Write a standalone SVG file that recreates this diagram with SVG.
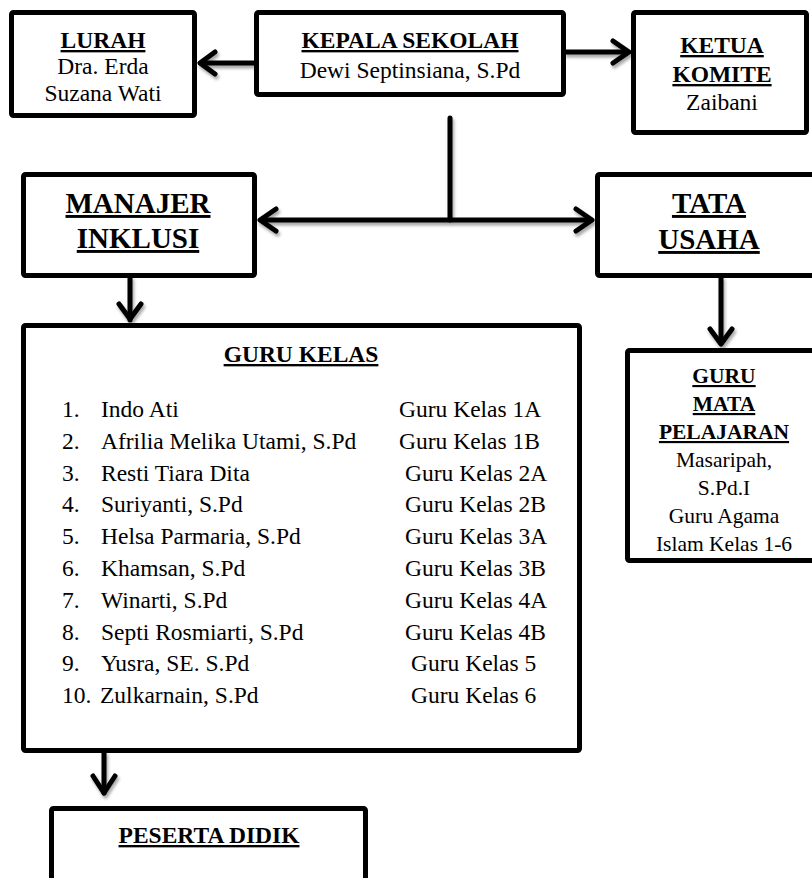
<svg xmlns="http://www.w3.org/2000/svg" width="812" height="878" viewBox="0 0 812 878">
<style>
  .box { fill: #fff; stroke: #000; stroke-width: 5; }
  .t { font-family: "Liberation Serif", "Times New Roman", serif; fill: #000; text-anchor: middle; }
  .s24 { font-size: 23.5px; }
  .s29 { font-size: 29px; }
  .s21 { font-size: 21.5px; }
  .b { font-weight: bold; text-decoration: underline; }
  .l { text-anchor: start; }
  .line { fill: none; stroke: #000; stroke-width: 5; stroke-linecap: round; stroke-linejoin: round; }
</style>
<defs>
  <filter id="sh" x="-20%" y="-20%" width="140%" height="140%">
    <feDropShadow dx="1.5" dy="3" stdDeviation="1.5" flood-color="#000" flood-opacity="0.35"/>
  </filter>
</defs>
<rect width="812" height="878" fill="#fff"/>

<g id="connectors" filter="url(#sh)">
  <!-- KEPALA -> LURAH -->
  <path class="line" d="M254 63 H201"/>
  <path class="line" d="M215 52 L200 63 L215 74"/>
  <!-- KEPALA -> KETUA -->
  <path class="line" d="M566 52 H628"/>
  <path class="line" d="M613 41 L629 52 L613 63"/>
  <!-- vertical trunk and horizontal bar -->
  <path class="line" d="M450 118 V220"/>
  <path class="line" d="M261 220 H591"/>
  <path class="line" d="M276 209 L260 220 L276 231"/>
  <path class="line" d="M576 209 L592 220 L576 231"/>
  <!-- MANAJER -> GURU KELAS -->
  <path class="line" d="M130 278 V320"/>
  <path class="line" d="M119 304 L130 319 L141 304"/>
  <!-- TATA USAHA -> GURU MATA PELAJARAN -->
  <path class="line" d="M721 278 V343"/>
  <path class="line" d="M710 329 L721 344 L732 329"/>
  <!-- GURU KELAS -> PESERTA DIDIK -->
  <path class="line" d="M104 753 V793"/>
  <path class="line" d="M93 776 L104 793 L115 776"/>
</g>

<g id="lurah">
  <rect class="box" x="11.5" y="12.5" width="183" height="103" rx="2"/>
  <text class="t s24 b" x="103" y="48">LURAH</text>
  <text class="t s24" x="103" y="74">Dra. Erda</text>
  <text class="t s24" x="103" y="101">Suzana Wati</text>
</g>

<g id="kepala-sekolah">
  <rect class="box" x="256.5" y="12.5" width="307" height="82" rx="2"/>
  <text class="t s24 b" x="410" y="48">KEPALA SEKOLAH</text>
  <text class="t s24" x="410" y="78">Dewi Septinsiana, S.Pd</text>
</g>

<g id="ketua-komite">
  <rect class="box" x="633.5" y="12.5" width="173" height="120" rx="2"/>
  <text class="t s24 b" x="722" y="53">KETUA</text>
  <text class="t s24 b" x="722" y="82">KOMITE</text>
  <text class="t s24" x="722" y="110">Zaibani</text>
</g>

<g id="manajer-inklusi">
  <rect class="box" x="23.5" y="174.5" width="231" height="101" rx="2"/>
  <text class="t s29 b" x="138" y="213">MANAJER</text>
  <text class="t s29 b" x="138" y="248">INKLUSI</text>
</g>

<g id="tata-usaha">
  <rect class="box" x="597.5" y="174.5" width="230" height="101" rx="2"/>
  <text class="t s29 b" x="709" y="213">TATA</text>
  <text class="t s29 b" x="709" y="249">USAHA</text>
</g>

<g id="guru-kelas">
  <rect class="box" x="23.5" y="325.5" width="556" height="425" rx="2"/>
  <text class="t s24 b" x="301" y="362">GURU KELAS</text>
  <g class="t s24 l">
    <text x="62" y="417">1.</text><text x="101" y="417">Indo Ati</text><text x="399" y="417">Guru Kelas 1A</text>
    <text x="62" y="448.8">2.</text><text x="101" y="448.8">Afrilia Melika Utami, S.Pd</text><text x="399" y="448.8">Guru Kelas 1B</text>
    <text x="62" y="480.6">3.</text><text x="101" y="480.6">Resti Tiara Dita</text><text x="405" y="480.6">Guru Kelas 2A</text>
    <text x="62" y="512.4">4.</text><text x="101" y="512.4">Suriyanti, S.Pd</text><text x="405" y="512.4">Guru Kelas 2B</text>
    <text x="62" y="544.2">5.</text><text x="101" y="544.2">Helsa Parmaria, S.Pd</text><text x="405" y="544.2">Guru Kelas 3A</text>
    <text x="62" y="576">6.</text><text x="101" y="576">Khamsan, S.Pd</text><text x="405" y="576">Guru Kelas 3B</text>
    <text x="62" y="607.8">7.</text><text x="101" y="607.8">Winarti, S.Pd</text><text x="405" y="607.8">Guru Kelas 4A</text>
    <text x="62" y="639.6">8.</text><text x="101" y="639.6">Septi Rosmiarti, S.Pd</text><text x="405" y="639.6">Guru Kelas 4B</text>
    <text x="62" y="671.4">9.</text><text x="101" y="671.4">Yusra, SE. S.Pd</text><text x="411" y="671.4">Guru Kelas 5</text>
    <text x="62" y="703.2">10.</text><text x="100" y="703.2">Zulkarnain, S.Pd</text><text x="411" y="703.2">Guru Kelas 6</text>
  </g>
</g>

<g id="guru-mata-pelajaran">
  <rect class="box" x="627.5" y="350.5" width="200" height="210" rx="2"/>
  <text class="t s21 b" x="724" y="383">GURU</text>
  <text class="t s21 b" x="724" y="411">MATA</text>
  <text class="t s21 b" x="724" y="439">PELAJARAN</text>
  <text class="t s21" x="724" y="467">Masaripah,</text>
  <text class="t s21" x="724" y="495">S.Pd.I</text>
  <text class="t s21" x="724" y="523">Guru Agama</text>
  <text class="t s21" x="724" y="551">Islam Kelas 1-6</text>
</g>

<g id="peserta-didik">
  <rect class="box" x="51.5" y="808.5" width="314" height="100" rx="2"/>
  <text class="t s24 b" x="209" y="843">PESERTA DIDIK</text>
</g>
</svg>
